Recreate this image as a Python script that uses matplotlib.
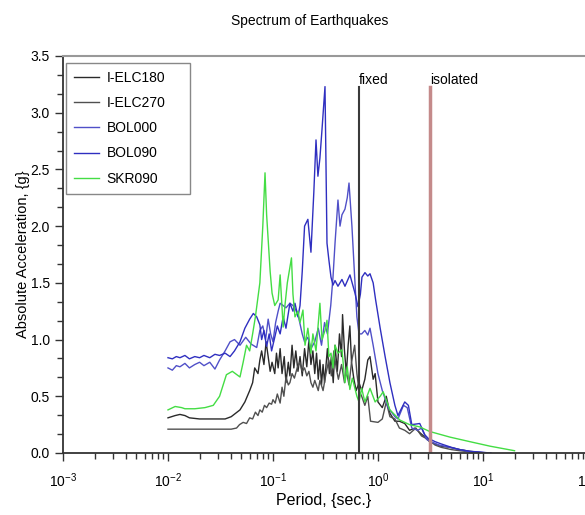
import matplotlib
matplotlib.use('Agg')
import matplotlib.pyplot as plt
from matplotlib.ticker import LogLocator, MultipleLocator, NullFormatter

plt.rcParams['font.family'] = ['Liberation Sans', 'DejaVu Sans']
plt.rcParams['mathtext.fontset'] = 'custom'
plt.rcParams['mathtext.rm'] = 'Liberation Sans'
plt.rcParams['mathtext.it'] = 'Liberation Sans:italic'

# Spectra: period (s) -> absolute acceleration (g)
elc180_t = [0.01, 0.0117, 0.013, 0.0145, 0.016, 0.02, 0.028, 0.035, 0.040, 0.0485,
            0.054, 0.060, 0.064, 0.067, 0.072, 0.075, 0.078, 0.082, 0.086, 0.090,
            0.094, 0.098, 0.104, 0.108, 0.112, 0.117, 0.122, 0.128, 0.133, 0.140,
            0.145, 0.152, 0.158, 0.165, 0.173, 0.181, 0.190, 0.20, 0.21, 0.22,
            0.23, 0.24, 0.25, 0.26, 0.27, 0.28, 0.29, 0.30, 0.31, 0.33,
            0.345, 0.36, 0.375, 0.39, 0.41, 0.43, 0.45, 0.46, 0.48, 0.50,
            0.52, 0.54, 0.56, 0.59, 0.62, 0.66, 0.70, 0.75, 0.80, 0.84,
            0.90, 0.94, 1.0, 1.1, 1.2, 1.3, 1.45, 1.6, 1.8, 2.0,
            2.25, 2.5, 2.8, 3.1, 3.5, 4.0, 4.85, 6.0, 7.5, 9.4, 11.0]
elc180_a = [0.31, 0.33, 0.34, 0.33, 0.31, 0.30, 0.30, 0.30, 0.32, 0.38,
            0.45, 0.55, 0.62, 0.75, 0.70, 0.82, 0.90, 0.78, 0.98, 0.85,
            0.72, 0.80, 0.70, 0.88, 0.75, 0.92, 0.70, 0.85, 0.62, 0.80,
            0.68, 0.95, 0.75, 0.90, 0.72, 0.85, 0.68, 0.92, 0.76, 1.00,
            0.78, 0.90, 0.70, 0.88, 0.65, 0.82, 0.60, 0.78, 0.62, 0.92,
            0.70, 0.85, 0.62, 0.95, 0.72, 1.05, 0.85, 1.22, 0.90, 0.70,
            0.95, 1.12, 0.80, 0.65, 0.55, 0.62, 0.55, 0.65, 0.82, 0.85,
            0.65, 0.70, 0.45, 0.40, 0.50, 0.35, 0.28, 0.28, 0.26, 0.20,
            0.22, 0.18, 0.14, 0.10, 0.08, 0.06, 0.05, 0.03, 0.015, 0.005, 0.0]

elc270_t = [0.01, 0.014, 0.02, 0.028, 0.035, 0.04, 0.045, 0.048, 0.052, 0.056,
            0.060, 0.064, 0.068, 0.072, 0.075, 0.079, 0.083, 0.087, 0.092, 0.097,
            0.10, 0.105, 0.11, 0.117, 0.122, 0.127, 0.133, 0.140, 0.145, 0.152,
            0.16, 0.17, 0.18, 0.19, 0.20, 0.21, 0.22, 0.23, 0.24, 0.25,
            0.27, 0.28, 0.30, 0.32, 0.34, 0.36, 0.38, 0.40, 0.42, 0.45,
            0.48, 0.50, 0.53, 0.56, 0.60, 0.63, 0.66, 0.70, 0.75, 0.80,
            0.85, 1.0, 1.1, 1.2, 1.3, 1.45, 1.6, 1.8, 2.0, 2.3,
            2.6, 3.0, 3.5, 4.0, 5.0, 6.0, 7.5, 9.0]
elc270_a = [0.21, 0.21, 0.21, 0.21, 0.21, 0.21, 0.22, 0.25, 0.27, 0.26,
            0.31, 0.30, 0.36, 0.33, 0.38, 0.36, 0.42, 0.40, 0.44, 0.43,
            0.47, 0.44, 0.52, 0.44, 0.58, 0.50, 0.67, 0.60, 0.62, 0.70,
            0.66, 0.75, 0.80, 0.72, 0.75, 0.68, 0.72, 0.62, 0.58, 0.64,
            0.55, 0.64, 0.55, 0.70, 0.82, 0.68, 0.90, 0.75, 0.65, 0.78,
            0.62, 0.72, 0.60, 0.80, 0.95, 0.70, 0.55, 0.50, 0.42, 0.50,
            0.28, 0.27, 0.30, 0.45, 0.32, 0.30, 0.22, 0.20, 0.17, 0.22,
            0.15, 0.12, 0.07, 0.05, 0.03, 0.02, 0.01, 0.0]

bol000_t = [0.01, 0.011, 0.012, 0.013, 0.0145, 0.016, 0.018, 0.02, 0.022, 0.025,
            0.028, 0.031, 0.035, 0.039, 0.043, 0.0485, 0.055, 0.062, 0.070, 0.075,
            0.080, 0.085, 0.090, 0.095, 0.10, 0.106, 0.112, 0.117, 0.125, 0.133,
            0.145, 0.155, 0.165, 0.175, 0.19, 0.20, 0.215, 0.23, 0.25, 0.27,
            0.29, 0.31, 0.33, 0.355, 0.373, 0.39, 0.416, 0.435, 0.454, 0.485,
            0.51, 0.53, 0.565, 0.60, 0.63, 0.66, 0.70, 0.75, 0.80, 0.84,
            0.90, 1.0, 1.1, 1.25, 1.45, 1.55, 1.75, 1.9, 2.1, 2.4,
            2.6, 2.9, 3.2, 3.8, 4.8, 6.0, 7.5, 9.4, 12.0]
bol000_a = [0.75, 0.73, 0.77, 0.76, 0.79, 0.75, 0.78, 0.80, 0.77, 0.80,
            0.74, 0.82, 0.90, 0.98, 1.00, 0.95, 1.02, 0.96, 0.93, 1.08,
            1.12, 1.00, 1.18, 1.05, 0.98, 1.15, 1.25, 1.32, 1.30, 1.28,
            1.32, 1.30, 1.26, 1.20, 1.05, 0.98, 1.02, 0.92, 0.98, 1.10,
            0.95, 1.15, 1.05, 1.30, 1.55, 1.85, 2.23, 2.00, 2.10, 2.15,
            2.25, 2.38, 2.00, 1.55, 1.20, 1.05, 1.05, 1.08, 1.04, 1.10,
            0.95, 0.70, 0.55, 0.40, 0.32, 0.30, 0.42, 0.40, 0.22, 0.20,
            0.22, 0.12, 0.10, 0.07, 0.05, 0.03, 0.012, 0.005, 0.0]

bol090_t = [0.01, 0.011, 0.012, 0.013, 0.0145, 0.016, 0.018, 0.02, 0.022, 0.025,
            0.028, 0.031, 0.035, 0.039, 0.043, 0.0485, 0.054, 0.060, 0.065, 0.070,
            0.075, 0.078, 0.082, 0.087, 0.092, 0.097, 0.104, 0.11, 0.117, 0.125,
            0.133, 0.145, 0.155, 0.162, 0.173, 0.181, 0.19, 0.20, 0.215, 0.23,
            0.245, 0.257, 0.268, 0.28, 0.293, 0.313, 0.327, 0.341, 0.357, 0.373,
            0.39, 0.416, 0.454, 0.485, 0.541, 0.604, 0.645, 0.68, 0.704, 0.752,
            0.80, 0.84, 0.90, 0.95, 1.05, 1.17, 1.3, 1.45, 1.55, 1.8,
            1.95, 2.1, 2.5, 2.8, 3.0, 3.5, 4.0, 5.0, 6.0, 7.5, 9.4, 11.7]
bol090_a = [0.84, 0.83, 0.85, 0.84, 0.86, 0.83, 0.85, 0.84, 0.86, 0.84,
            0.87, 0.86, 0.88, 0.85, 0.90, 0.98, 1.10, 1.18, 1.23, 1.20,
            1.13, 1.00, 1.08, 0.94, 1.05, 0.90, 1.02, 1.12, 1.05, 1.20,
            1.10, 1.32, 1.25, 1.32, 1.20, 1.30, 1.60, 2.00, 2.06, 1.77,
            2.30, 2.76, 2.44, 2.60, 2.85, 3.23, 1.85, 1.70, 1.55, 1.48,
            1.52, 1.47, 1.53, 1.47, 1.57, 1.41, 1.29, 1.40, 1.55, 1.59,
            1.56, 1.58, 1.50, 1.35, 1.10, 0.85, 0.62, 0.42, 0.33, 0.45,
            0.42, 0.25, 0.26, 0.16, 0.13, 0.10, 0.08, 0.05, 0.03, 0.015, 0.008, 0.0]

skr090_t = [0.01, 0.0117, 0.0135, 0.0145, 0.018, 0.0225, 0.027, 0.031, 0.036, 0.041,
            0.0485, 0.052, 0.056, 0.060, 0.064, 0.068, 0.075, 0.080, 0.084, 0.087,
            0.094, 0.098, 0.104, 0.112, 0.117, 0.125, 0.130, 0.137, 0.150, 0.155,
            0.162, 0.173, 0.181, 0.193, 0.202, 0.215, 0.230, 0.240, 0.257, 0.280,
            0.293, 0.313, 0.327, 0.341, 0.357, 0.373, 0.39, 0.416, 0.454, 0.485,
            0.51, 0.54, 0.57, 0.63, 0.66, 0.70, 0.75, 0.84, 0.94, 1.05,
            1.12, 1.3, 1.62, 2.0, 2.5, 3.1, 4.85, 7.5, 11.7, 20.0]
skr090_a = [0.38, 0.41, 0.40, 0.39, 0.39, 0.40, 0.42, 0.50, 0.69, 0.72,
            0.67, 0.80, 0.95, 0.90, 1.05, 1.20, 1.50, 2.00, 2.47, 2.10,
            1.60, 1.41, 1.30, 1.35, 1.57, 1.11, 1.30, 1.50, 1.72, 1.40,
            1.20, 1.25, 1.15, 1.26, 0.95, 1.10, 0.88, 1.05, 0.90, 1.32,
            1.00, 1.08, 1.17, 0.85, 0.88, 0.75, 0.95, 0.88, 0.91, 0.62,
            0.76, 0.56, 0.66, 0.50, 0.45, 0.57, 0.45, 0.57, 0.45, 0.50,
            0.54, 0.38, 0.29, 0.25, 0.23, 0.19, 0.14, 0.10, 0.06, 0.02]

series = [
    ('I-ELC180', elc180_t, elc180_a, '#2a2a2a'),
    ('I-ELC270', elc270_t, elc270_a, '#505050'),
    ('BOL000', bol000_t, bol000_a, '#5050c8'),
    ('BOL090', bol090_t, bol090_a, '#2f2fc0'),
    ('SKR090', skr090_t, skr090_a, '#44dd44'),
]

t_fixed = 0.659
t_isolated = 3.13
marker_top = 3.23

fig = plt.figure(figsize=(5.85, 5.15), dpi=100)
ax = fig.add_axes([0.1077, 0.1204, 0.8973, 0.7709])

for name, t, a, c in series:
    ax.plot(t, a, color=c, lw=1.0, label=name)

ax.plot([t_fixed, t_fixed], [0, marker_top], color='#3a3a3a', lw=1.5)
ax.plot([t_isolated, t_isolated], [0, marker_top], color='#c48a8a', lw=2.5)
ax.text(t_fixed, 3.29, 'fixed', fontsize=10, ha='left', va='center')
ax.text(t_isolated * 1.01, 3.29, 'isolated', fontsize=10, ha='left', va='center')

ax.set_xscale('log')
ax.set_xlim(1e-3, 1e2)
ax.set_ylim(0, 3.5)
ax.xaxis.set_major_locator(LogLocator(base=10, numticks=10))
ax.xaxis.set_minor_locator(LogLocator(base=10, subs=range(2, 10), numticks=20))
ax.xaxis.set_minor_formatter(NullFormatter())
ax.yaxis.set_major_locator(MultipleLocator(0.5))
ax.yaxis.set_minor_locator(MultipleLocator(0.5 / 3))
ax.yaxis.set_major_formatter(plt.FuncFormatter(lambda v, p: '%.1f' % v))

ax.tick_params(which='major', direction='out', length=6, width=1, colors='#333333',
               labelsize=10, labelcolor='black')
ax.tick_params(which='minor', direction='out', length=4, width=1, colors='#333333')
ax.tick_params(axis='x', which='major', pad=7)

ax.spines['right'].set_visible(False)
ax.spines['top'].set_color('#999999')
ax.spines['top'].set_linewidth(1.5)
ax.spines['left'].set_color('#333333')
ax.spines['bottom'].set_color('#333333')
ax.spines['left'].set_linewidth(1.3)
ax.spines['bottom'].set_linewidth(1.3)

ax.set_xlabel('Period, {sec.}', fontsize=11.5)
ax.set_ylabel('Absolute Acceleration, {g}', fontsize=10.5)
ax.xaxis.set_label_coords(0.497, -0.102)
ax.yaxis.set_label_coords(-0.062, 0.5)
fig.text(0.53, 0.96, 'Spectrum of Earthquakes', fontsize=10, ha='center', va='center')

leg = ax.legend(loc='upper left', bbox_to_anchor=(0.006, 0.983, 0.236, 0.0),
                mode='expand', borderaxespad=0, fontsize=10, handlelength=1.8,
                handletextpad=0.5, labelspacing=0.8, borderpad=0.6,
                fancybox=False, framealpha=1)
leg.get_frame().set_edgecolor('#888888')
leg.get_frame().set_linewidth(1.0)

fig.savefig('out.png', dpi=100)
